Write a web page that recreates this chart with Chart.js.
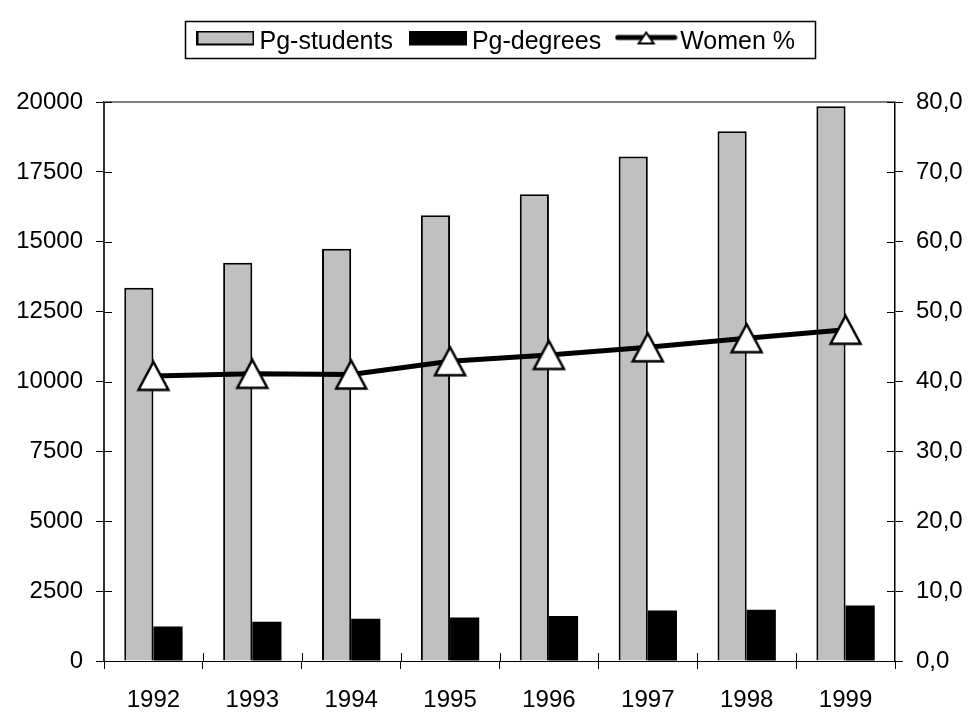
<!DOCTYPE html>
<html>
<head>
<meta charset="utf-8">
<script src="https://cdn.jsdelivr.net/npm/chart.js@4.4.1/dist/chart.umd.min.js"></script>
<style>
  html, body { margin: 0; padding: 0; background: #fff; }
</style>
</head>
<body>
<canvas id="chart" width="971" height="716"></canvas>
<script>
// data
const years = ['1992', '1993', '1994', '1995', '1996', '1997', '1998', '1999'];
const pgStudents = [13350, 14250, 14750, 15950, 16700, 18050, 18950, 19850];
const pgDegrees = [1230, 1400, 1510, 1560, 1610, 1810, 1830, 1990];
const womenPct = [40.8, 41.1, 41.0, 42.9, 43.8, 44.9, 46.2, 47.4];
const leftAxis = { min: 0, max: 20000, step: 2500 };
const rightAxis = { min: 0, max: 80, step: 10 };
const legendNames = ['Pg-students', 'Pg-degrees', 'Women %'];

const FONT = { family: '"Liberation Sans", Arial, sans-serif', size: 24 };
const LEGEND_FONT = { family: '"Liberation Sans", Arial, sans-serif', size: 25 };

// small canvases used as markers / legend keys
function triangle(w, h, lw) {
  const c = document.createElement('canvas');
  c.width = w; c.height = h;
  const g = c.getContext('2d');
  g.beginPath();
  g.moveTo(w / 2, lw);
  g.lineTo(w - lw, h - lw);
  g.lineTo(lw, h - lw);
  g.closePath();
  g.fillStyle = '#fff';
  g.fill();
  g.lineWidth = lw;
  g.strokeStyle = '#000';
  g.stroke();
  return c;
}

// keys sit a bit higher than the text: draw them in the top of a taller canvas
const KEY_H = 23;

function boxKey(w, h, fill) {
  const c = document.createElement('canvas');
  c.width = w; c.height = KEY_H;
  const g = c.getContext('2d');
  g.fillStyle = fill;
  g.fillRect(0, 0, w, h);
  g.lineWidth = 2;
  g.strokeStyle = '#000';
  g.strokeRect(1, 1, w - 2, h - 2);
  return c;
}

function lineKey(w) {
  const c = document.createElement('canvas');
  c.width = w; c.height = KEY_H;
  const g = c.getContext('2d');
  const ly = 7;
  g.lineCap = 'round';
  g.lineWidth = 5;
  g.beginPath();
  g.moveTo(3, ly);
  g.lineTo(w - 3, ly);
  g.stroke();
  g.drawImage(triangle(19, 15, 2), w / 2 - 9.5, ly - 7);
  return c;
}

const marker = triangle(35, 33, 2.5);
const keys = [boxKey(58, 15, '#c0c0c0'), boxKey(58, 15, '#000'), lineKey(63)];

// border around the legend, top border of plot and short inner ticks
const extras = {
  id: 'extras',
  afterInit(chart) {
    const lg = chart.legend;
    const fit = lg.fit.bind(lg);
    lg.fit = function () { fit(); this.height = 82; };
  },
  afterLayout(chart) {
    const lg = chart.legend;
    lg.left += 14;
    lg.right += 14;
    lg.top -= 14;
  },
  afterDraw(chart) {
    const ctx = chart.ctx;
    const a = chart.chartArea;
    const hb = chart.legend.legendHitBoxes;
    ctx.save();
    if (hb && hb.length) {
      const last = hb[hb.length - 1];
      const l = Math.round(hb[0].left - 19) + 0.5;
      const r = Math.round(last.left + last.width + 20) + 0.5;
      ctx.strokeStyle = '#000';
      ctx.lineWidth = 1.5;
      ctx.strokeRect(l, 21.5, r - l, 37);
    }
    ctx.strokeStyle = '#808080';
    ctx.lineWidth = 2;
    ctx.beginPath();
    ctx.moveTo(a.left, a.top);
    ctx.lineTo(a.right, a.top);
    ctx.stroke();

    ctx.strokeStyle = '#000';
    ctx.lineWidth = 1;
    const y = chart.scales.y, y1 = chart.scales.y1, x = chart.scales.x;
    ctx.beginPath();
    y.ticks.forEach(t => {
      const p = Math.round(y.getPixelForValue(t.value)) + 0.5;
      ctx.moveTo(a.left, p); ctx.lineTo(a.left + 8, p);
    });
    y1.ticks.forEach(t => {
      const p = Math.round(y1.getPixelForValue(t.value)) + 0.5;
      ctx.moveTo(a.right - 8, p); ctx.lineTo(a.right, p);
    });
    for (let i = 1; i < years.length; i++) {
      const p = Math.round((x.getPixelForValue(i) + x.getPixelForValue(i - 1)) / 2) + 0.5;
      ctx.moveTo(p, a.bottom - 8); ctx.lineTo(p, a.bottom);
    }
    ctx.stroke();
    ctx.restore();
  }
};

new Chart(document.getElementById('chart'), {
  type: 'bar',
  data: {
    labels: years,
    datasets: [
      {
        type: 'line',
        label: legendNames[2],
        data: womenPct,
        yAxisID: 'y1',
        borderColor: '#000',
        borderWidth: 5,
        pointStyle: marker,
        pointRadius: 17,
        tension: 0,
        order: 0
      },
      {
        label: legendNames[0],
        data: pgStudents,
        yAxisID: 'y',
        backgroundColor: '#c0c0c0',
        borderColor: '#000',
        borderWidth: 2,
        order: 1
      },
      {
        label: legendNames[1],
        data: pgDegrees,
        yAxisID: 'y',
        backgroundColor: '#000',
        borderColor: '#000',
        borderWidth: 0,
        order: 2
      }
    ]
  },
  options: {
    responsive: false,
    animation: false,
    categoryPercentage: 0.59,
    barPercentage: 1.0,
    layout: { padding: { top: 20, left: 0, right: 0, bottom: 0 } },
    plugins: {
      tooltip: { enabled: false },
      legend: {
        position: 'top',
        labels: {
          font: LEGEND_FONT,
          color: '#000',
          usePointStyle: true,
          pointStyleWidth: 43,
          padding: 23.5,
          generateLabels: () => legendNames.map((t, i) => ({
            text: t,
            pointStyle: keys[i],
            fillStyle: '#000',
            strokeStyle: '#000',
            lineWidth: 0,
            fontColor: '#000',
            datasetIndex: i
          }))
        }
      }
    },
    scales: {
      x: {
        offset: true,
        grid: { offset: true, drawOnChartArea: false, tickLength: 8, color: '#000' },
        border: { color: '#000', width: 1 },
        ticks: { font: FONT, color: '#000', padding: 17, maxRotation: 0 },
        afterFit: s => { s.height = 55; }
      },
      y: {
        position: 'left',
        min: leftAxis.min,
        max: leftAxis.max,
        grid: { drawOnChartArea: false, tickLength: 8, color: '#000' },
        border: { color: '#333', width: 2 },
        ticks: {
          stepSize: leftAxis.step,
          font: FONT,
          color: '#000',
          padding: 13,
          callback: v => String(v)
        },
        afterFit: s => { s.width = 104; }
      },
      y1: {
        position: 'right',
        min: rightAxis.min,
        max: rightAxis.max,
        grid: { drawOnChartArea: false, tickLength: 8, color: '#000' },
        border: { color: '#000', width: 1.5 },
        ticks: {
          stepSize: rightAxis.step,
          font: FONT,
          color: '#000',
          padding: 13,
          callback: v => v.toFixed(1).replace('.', ',')
        },
        afterFit: s => { s.width = 76; }
      }
    }
  },
  plugins: [extras]
});
</script>
</body>
</html>
